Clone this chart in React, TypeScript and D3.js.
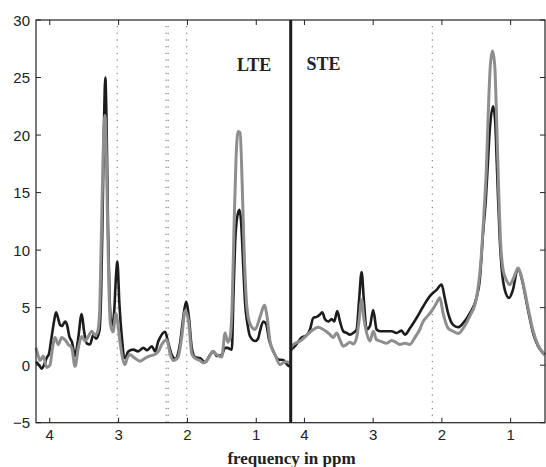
import React from "react";
import * as d3 from "d3";

// [ppm, intensity]
const lteBlack: [number, number][] = [
  [4.2, 0.3], [4.156, 0.0], [4.117, -0.3], [4.084, 0.0], [4.044, 0.65], [4.011, 1.0],
  [3.972, 2.5], [3.938, 3.8], [3.909, 4.6], [3.88, 4.1], [3.851, 3.5], [3.822, 3.4],
  [3.778, 3.8], [3.749, 3.5], [3.716, 2.5], [3.677, 2.0], [3.633, 0.8], [3.59, 2.2],
  [3.536, 4.45], [3.503, 3.0], [3.463, 1.9], [3.415, 1.8], [3.367, 2.65], [3.328, 2.3],
  [3.28, 2.95], [3.255, 6], [3.233, 13], [3.212, 21], [3.193, 25.0], [3.175, 21],
  [3.154, 12], [3.132, 6], [3.1, 3.4], [3.066, 4.5], [3.04, 7.5], [3.018, 9.0],
  [2.989, 5.4], [2.954, 2.5], [2.906, 0.6], [2.858, 1.2], [2.786, 1.35], [2.717, 1.2],
  [2.64, 1.5], [2.587, 1.3], [2.518, 1.65], [2.47, 1.2], [2.422, 2.1], [2.398, 2.4],
  [2.325, 2.9], [2.281, 2.0], [2.228, 0.9], [2.18, 0.55], [2.107, 1.9], [2.064, 4.0],
  [2.02, 5.5], [1.976, 4.0], [1.937, 1.5], [1.889, 0.7], [1.816, 0.6], [1.744, 0.25],
  [1.671, 0.9], [1.623, 1.2], [1.574, 0.8], [1.501, 0.9], [1.453, 1.5], [1.419, 1.5],
  [1.355, 1.35], [1.332, 6.0], [1.308, 10.5], [1.279, 12.8], [1.245, 13.5], [1.221, 12.5],
  [1.187, 8.3], [1.163, 5.4], [1.126, 3.5], [1.09, 2.5], [1.017, 2.1], [0.974, 2.3],
  [0.945, 3.0], [0.897, 3.8], [0.858, 3.6], [0.814, 2.2], [0.751, 1.2], [0.678, 0.5],
  [0.61, 0.45], [0.533, -0.05], [0.5, -0.1],
];

const lteGray: [number, number][] = [
  [4.2, 1.5], [4.167, 0.8], [4.142, 0.4], [4.094, 0.8], [4.044, -0.2], [3.997, 0.0],
  [3.967, 1.2], [3.924, 2.4], [3.876, 1.8], [3.826, 2.4], [3.778, 2.2], [3.731, 1.8],
  [3.681, 1.5], [3.633, -0.1], [3.586, 1.5], [3.536, 2.5], [3.488, 2.1], [3.44, 2.5],
  [3.39, 2.95], [3.342, 2.6], [3.303, 2.95], [3.277, 4.5], [3.255, 10], [3.226, 18],
  [3.197, 21.7], [3.168, 15], [3.142, 7], [3.117, 3.5], [3.081, 2.9], [3.038, 4.5],
  [3.009, 3.5], [2.979, 2.0], [2.906, 0.05], [2.882, 0.5], [2.834, 0.9], [2.761, 0.6],
  [2.689, 0.35], [2.616, 0.6], [2.543, 0.8], [2.47, 0.95], [2.422, 1.2], [2.373, 1.8],
  [2.3, 2.2], [2.252, 1.0], [2.204, 0.4], [2.136, 0.7], [2.082, 2.5], [2.034, 4.7],
  [1.986, 3.9], [1.937, 1.0], [1.889, 0.6], [1.816, 0.4], [1.768, 0.2], [1.695, 0.6],
  [1.632, 1.2], [1.574, 0.9], [1.501, 0.7], [1.453, 2.8], [1.414, 2.0], [1.381, 2.4],
  [1.352, 5.0], [1.323, 12], [1.294, 18], [1.264, 20.3], [1.235, 20.2], [1.206, 16],
  [1.177, 10], [1.148, 6], [1.119, 4.2], [1.076, 3.4], [1.017, 3.1], [0.945, 4.2],
  [0.882, 5.2], [0.843, 4.2], [0.799, 2.0], [0.727, 0.9], [0.654, 0.05], [0.581, 0.3],
  [0.5, 0.2],
];

const steBlack: [number, number][] = [
  [4.2, 1.3], [4.138, 1.65], [4.04, 2.4], [3.967, 2.6], [3.919, 3.1], [3.872, 4.1],
  [3.822, 4.2], [3.774, 4.4], [3.741, 4.6], [3.701, 4.0], [3.653, 3.8], [3.604, 4.0],
  [3.566, 3.8], [3.523, 4.7], [3.483, 3.8], [3.435, 2.95], [3.386, 2.8], [3.338, 2.65],
  [3.29, 2.8], [3.241, 3.1], [3.207, 5.5], [3.168, 8.1], [3.134, 5.5], [3.095, 3.1],
  [3.047, 3.4], [2.999, 4.8], [2.95, 3.1], [2.902, 2.95], [2.829, 2.95], [2.732, 2.95],
  [2.659, 2.8], [2.587, 3.0], [2.539, 2.65], [2.466, 3.2], [2.369, 4.1], [2.273, 5.1],
  [2.175, 6.0], [2.078, 6.55], [2.005, 7.0], [1.957, 5.8], [1.909, 4.5], [1.837, 3.5],
  [1.764, 3.3], [1.691, 3.65], [1.594, 4.5], [1.497, 5.85], [1.449, 7.4], [1.401, 11.5],
  [1.361, 14.4], [1.332, 17.5], [1.303, 20.5], [1.255, 22.5], [1.223, 21], [1.201, 17.5],
  [1.182, 14.4], [1.158, 11], [1.133, 8.6], [1.085, 6.55], [1.023, 5.85], [0.969, 6.5],
  [0.892, 8.45], [0.838, 7.5], [0.747, 4.8], [0.674, 2.8], [0.601, 1.65], [0.529, 1.05],
  [0.504, 0.9],
];

const steGray: [number, number][] = [
  [4.2, 1.4], [4.185, 1.65], [4.04, 2.2], [3.967, 2.6], [3.872, 3.1], [3.799, 3.3],
  [3.726, 3.1], [3.677, 2.9], [3.629, 2.65], [3.581, 2.4], [3.531, 2.8], [3.483, 2.2],
  [3.435, 1.65], [3.386, 1.8], [3.338, 2.0], [3.29, 1.85], [3.241, 2.4], [3.207, 3.8],
  [3.168, 5.7], [3.134, 4.0], [3.095, 2.8], [3.047, 2.1], [2.999, 2.95], [2.95, 2.2],
  [2.877, 2.05], [2.805, 1.9], [2.732, 2.15], [2.659, 1.95], [2.611, 1.8], [2.539, 1.9],
  [2.466, 1.8], [2.393, 2.4], [2.322, 3.1], [2.273, 3.8], [2.219, 4.2], [2.15, 4.7],
  [2.078, 5.4], [2.03, 5.85], [1.982, 4.5], [1.909, 3.2], [1.837, 2.95], [1.764, 2.75],
  [1.691, 3.2], [1.594, 4.25], [1.497, 5.85], [1.439, 8.6], [1.391, 12.9], [1.354, 17],
  [1.325, 22], [1.296, 26], [1.264, 27.3], [1.231, 26], [1.202, 21], [1.173, 15],
  [1.144, 10.5], [1.11, 8.3], [1.061, 7.4], [1.013, 7.0], [0.955, 7.6], [0.892, 8.45],
  [0.838, 7.6], [0.747, 5.0], [0.674, 3.0], [0.601, 1.75], [0.529, 1.1], [0.504, 0.95],
];

const xTickValues = [4, 3, 2, 1];
const yTickValues = [-5, 0, 5, 10, 15, 20, 25, 30];
const lteDotted = [3.02, 2.31, 2.28, 2.01];
const steDotted = [2.14];

const W = 546;
const H = 467;
const left = 36;
const mid = 290.7;
const right = 545;
const top = 20;
const bottom = 422.7;

export default function App() {
  const y = d3.scaleLinear().domain([-5, 30]).range([bottom, top]);
  const xL = d3.scaleLinear().domain([4.2, 0.5]).range([left, mid]);
  const xR = d3.scaleLinear().domain([4.2, 0.5]).range([mid, right]);

  const mkLine = (x: d3.ScaleLinear<number, number>) =>
    d3
      .line<[number, number]>()
      .x((d) => x(d[0]))
      .y((d) => y(d[1]))
      .curve(d3.curveMonotoneX);

  const lineL = mkLine(xL);
  const lineR = mkLine(xR);

  const black = "#1c1c1c";
  const gray = "#8e8e8e";
  const font = "'Liberation Sans', Arial, sans-serif";
  const serif = "'Liberation Serif', 'Times New Roman', serif";

  return (
    <svg
      width={W}
      height={H}
      style={{ position: "absolute", left: 0, top: 0, background: "#fff" }}
    >
      <rect width={W} height={H} fill="#fff" />

      {/* dotted markers */}
      {lteDotted.map((p) => (
        <line key={"l" + p} x1={xL(p)} x2={xL(p)} y1={top + 6} y2={bottom}
          stroke="#666" strokeWidth={1} strokeDasharray="1.2 5.5" />
      ))}
      {steDotted.map((p) => (
        <line key={"r" + p} x1={xR(p)} x2={xR(p)} y1={top + 6} y2={bottom}
          stroke="#666" strokeWidth={1} strokeDasharray="1.2 5.5" />
      ))}

      {/* spectra: black under gray */}
      <path d={lineL(lteBlack) ?? ""} fill="none" stroke={black} strokeWidth={2.6} strokeLinejoin="round" />
      <path d={lineR(steBlack) ?? ""} fill="none" stroke={black} strokeWidth={2.6} strokeLinejoin="round" />
      <path d={lineL(lteGray) ?? ""} fill="none" stroke={gray} strokeWidth={3} strokeLinejoin="round" />
      <path d={lineR(steGray) ?? ""} fill="none" stroke={gray} strokeWidth={3} strokeLinejoin="round" />

      {/* axis box */}
      <rect x={left} y={top} width={right - left} height={bottom - top}
        fill="none" stroke="#222" strokeWidth={1.2} />

      {/* y ticks */}
      {yTickValues.map((t) => (
        <g key={t}>
          <line x1={left} x2={left + 5} y1={y(t)} y2={y(t)} stroke="#222" strokeWidth={1} />
          <line x1={right - 5} x2={right} y1={y(t)} y2={y(t)} stroke="#222" strokeWidth={1} />
          <text x={30} y={y(t) + 5.5} textAnchor="end" fontFamily={font} fontSize={15} fill="#222">
            {t < 0 ? "\u2212" + Math.abs(t) : t}
          </text>
        </g>
      ))}

      {/* x ticks, both panels */}
      {[xL, xR].map((x, i) =>
        xTickValues.map((t) => (
          <g key={i + "-" + t}>
            <line x1={x(t)} x2={x(t)} y1={bottom} y2={bottom - 5} stroke="#222" strokeWidth={1} />
            <line x1={x(t)} x2={x(t)} y1={top} y2={top + 5} stroke="#222" strokeWidth={1} />
            <text x={x(t)} y={439.5} textAnchor="middle" fontFamily={font} fontSize={15} fill="#222">
              {t}
            </text>
          </g>
        ))
      )}

      {/* divider */}
      <line x1={mid} x2={mid} y1={top} y2={bottom} stroke={black} strokeWidth={3} />

      <text x={237} y={71} fontFamily={serif} fontWeight="bold" fontSize={18} fill="#222">LTE</text>
      <text x={306.5} y={70} fontFamily={serif} fontWeight="bold" fontSize={18} fill="#222">STE</text>

      <text x={291.5} y={463.5} textAnchor="middle" fontFamily={serif} fontWeight="bold" fontSize={17} fill="#222">
        frequency in ppm
      </text>
    </svg>
  );
}
